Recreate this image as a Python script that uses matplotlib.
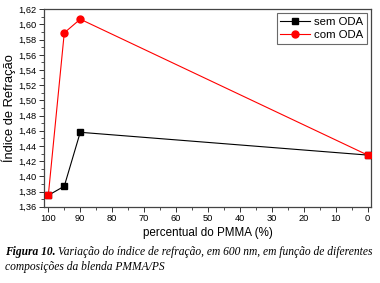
import matplotlib
matplotlib.use("Agg")
import matplotlib.pyplot as plt
from matplotlib.ticker import MultipleLocator, FuncFormatter

pmma = [100, 95, 90, 0]
sem_oda = [1.375, 1.387, 1.458, 1.428]
com_oda = [1.375, 1.589, 1.607, 1.428]

xticks = [100, 90, 80, 70, 60, 50, 40, 30, 20, 10, 0]

plt.rcParams['font.family'] = ['Liberation Sans', 'DejaVu Sans']

fig = plt.figure(figsize=(3.8, 2.83), dpi=100)
ax = fig.add_axes([44/380, 1-206.7/283, (371-44)/380, (206.7-9.3)/283])

ax.plot(pmma, sem_oda, color='black', lw=0.8, marker='s', ms=4.5, label='sem ODA', zorder=3)
ax.plot(pmma, com_oda, color='red', lw=0.8, zorder=4)
ax.plot(pmma[1:3], com_oda[1:3], ls='none', color='red', marker='o', ms=5, zorder=5)
ax.plot([pmma[0], pmma[3]], [com_oda[0], com_oda[3]], ls='none', color='red', marker='s', ms=4.5, zorder=5)
ax.plot([], [], color='red', lw=0.8, marker='o', ms=5, label='com ODA')

ax.set_xlim(101.35, -1.05)
ax.set_ylim(1.36, 1.62)
ax.set_xticks(xticks)
ax.xaxis.set_minor_locator(MultipleLocator(5))
ax.yaxis.set_major_locator(MultipleLocator(0.02))
ax.yaxis.set_minor_locator(MultipleLocator(0.01))
ax.yaxis.set_major_formatter(FuncFormatter(lambda v, p: f"{v:.2f}".replace('.', ',')))
ax.tick_params(which='major', length=3.5, width=0.7, labelsize=6.7, pad=2, color='#333333')
ax.tick_params(which='minor', length=2, width=0.6, color='#333333')
for s in ax.spines.values():
    s.set_color('#444444')
    s.set_linewidth(0.9)

ax.set_xlabel('percentual do PMMA (%)', fontsize=8.4, labelpad=2.5)
ax.set_ylabel('Índice de Refração', fontsize=9.3, labelpad=1.5)

leg = ax.legend(loc='upper right', fontsize=8.2, frameon=True, fancybox=False,
                edgecolor='#444444', borderpad=0.3, handlelength=2.6,
                handletextpad=0.4, labelspacing=0.3, borderaxespad=0.35)
leg.get_frame().set_linewidth(0.8)

fig.canvas.draw()
fs = 8.3
t1 = fig.text(5/380, 1-252/283, 'Figura 10.', family='Liberation Serif', style='italic',
              weight='bold', fontsize=fs, va='center', ha='left')
fig.canvas.draw()
bb = t1.get_window_extent()
x2 = (bb.x1 + 2.5) / fig.bbox.width
fig.text(x2, 1-252/283, 'Variação do índice de refração, em 600 nm, em função de diferentes',
         family='Liberation Serif', style='italic', fontsize=fs, va='center', ha='left')
fig.text(5/380, 1-267/283, 'composições da blenda PMMA/PS',
         family='Liberation Serif', style='italic', fontsize=fs, va='center', ha='left')

fig.savefig('out.png', dpi=100)
